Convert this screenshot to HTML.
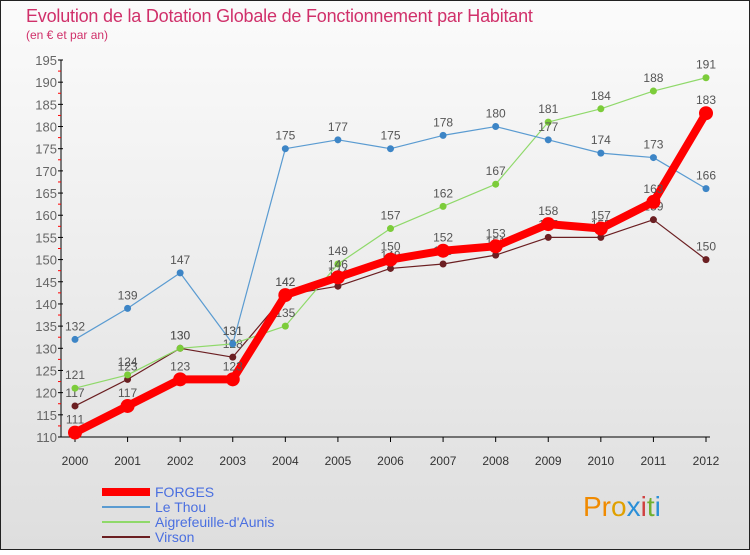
<!DOCTYPE html>
<html><head><meta charset="utf-8"><style>
html,body{margin:0;padding:0}
body{width:750px;height:550px;overflow:hidden;font-family:"Liberation Sans",sans-serif}
</style></head><body>
<svg id="chart" width="750" height="550" xmlns="http://www.w3.org/2000/svg">
<defs><linearGradient id="bg" x1="0" y1="0" x2="0" y2="1"><stop offset="0" stop-color="#fbfbfb"/><stop offset="1" stop-color="#dedede"/></linearGradient></defs>
<rect x="0.5" y="0.5" width="749" height="549" fill="url(#bg)" stroke="#222" stroke-width="1"/>
<text x="26" y="22" font-size="18" fill="#d0306a" letter-spacing="-0.2">Evolution de la Dotation Globale de Fonctionnement par Habitant</text>
<text x="26" y="39" font-size="12" fill="#d0306a">(en € et par an)</text>
<g id="axes"></g>
<g id="series"></g>
<g id="legend"></g>
<text x="583" y="516" font-size="28" fill="#f08a00">Pr<tspan fill="#e0a000">o</tspan><tspan fill="#2a8fd8">x</tspan><tspan fill="#d04040">i</tspan><tspan fill="#70b030">t</tspan><tspan fill="#2a8fd8">i</tspan></text>
</svg>
<script>
const years=[2000,2001,2002,2003,2004,2005,2006,2007,2008,2009,2010,2011,2012];
const yTicks=[110,115,120,125,130,135,140,145,150,155,160,165,170,175,180,185,190,195];
const forges=[111,117,123,123,142,146,150,152,153,158,157,163,183];
const leThou=[132,139,147,131,175,177,175,178,180,177,174,173,166];
const aigrefeuille=[121,124,130,131,135,149,157,162,167,181,184,188,191];
const virson=[117,123,130,128,142,144,148,149,151,155,155,159,150];
const NS="http://www.w3.org/2000/svg";
const X=i=>75+i*(706-75)/12;
const Y=v=>437-(v-110)*(437-60)/85;
function mk(tag,attrs,parent){const e=document.createElementNS(NS,tag);for(const k in attrs)e.setAttribute(k,attrs[k]);parent.appendChild(e);return e;}
const ax=document.getElementById('axes');
let yl=mk('line',{x1:61,y1:60,x2:61,y2:437,stroke:'#000'},ax);


let xl=mk('line',{x1:61,y1:437,x2:710,y2:437,stroke:'#000'},ax);


yTicks.forEach(v=>{
  mk('line',{x1:58,y1:Y(v),x2:63,y2:Y(v),stroke:'#000'},ax);
  if(v<195)mk('line',{x1:58,y1:Y(v+2.5),x2:61,y2:Y(v+2.5),stroke:'#f00'},ax);
  const t=mk('text',{x:57,y:Y(v)+5,'font-size':13,'text-anchor':'end',fill:'#666'},ax);
  
  
  t.textContent=v;
});
years.forEach((yr,i)=>{
  mk('line',{x1:X(i),y1:437,x2:X(i),y2:442,stroke:'#000'},ax);
  const t=mk('text',{x:X(i),y:465,'font-size':12,'text-anchor':'middle',fill:'#333'},ax);
  
  
  t.textContent=yr;
});
const sg=document.getElementById('series');
const defs=[
 {name:'virson',data:virson,color:'#6b1f22',w:1.2,r:3.5},
 {name:'aigrefeuille',data:aigrefeuille,color:'#8fd96a',w:1.2,r:3.5,fill:'#7ccc3a'},
 {name:'le-thou',data:leThou,color:'#5a9bd1',w:1.2,r:3.5,fill:'#3d85c6'},
 {name:'forges',data:forges,color:'#f00',w:8,r:7}
];
defs.forEach(s=>{
  const g=mk('g',{},sg);
  
  
  const l=mk('polyline',{points:s.data.map((v,i)=>X(i)+','+Y(v)).join(' '),fill:'none',stroke:s.color,'stroke-width':s.w,'stroke-linejoin':'round'},g);
  
  
  s.data.forEach((v,i)=>{
    const c=mk('circle',{cx:X(i),cy:Y(v),r:s.r,fill:s.fill||s.color},g);
    
    
    const t=mk('text',{x:X(i),y:Y(v)-9,'font-size':12,'text-anchor':'middle',fill:'#555'},g);
    
    
    t.textContent=v;
  });
});
const lg=document.getElementById('legend');
const leg=[['FORGES','#f00',8],['Le Thou','#5a9bd1',2],['Aigrefeuille-d\'Aunis','#8fd96a',2],['Virson','#6b1f22',2]];
leg.forEach((e,i)=>{
  const y=492+i*15;
  const l=mk('line',{x1:102,y1:y,x2:150,y2:y,stroke:e[1],'stroke-width':e[2]},lg);
  
  
  const t=mk('text',{x:155,y:y+5,'font-size':14,fill:'#4a6fe0'},lg);
  
  
  t.textContent=e[0];
});
</script>
</body></html>
